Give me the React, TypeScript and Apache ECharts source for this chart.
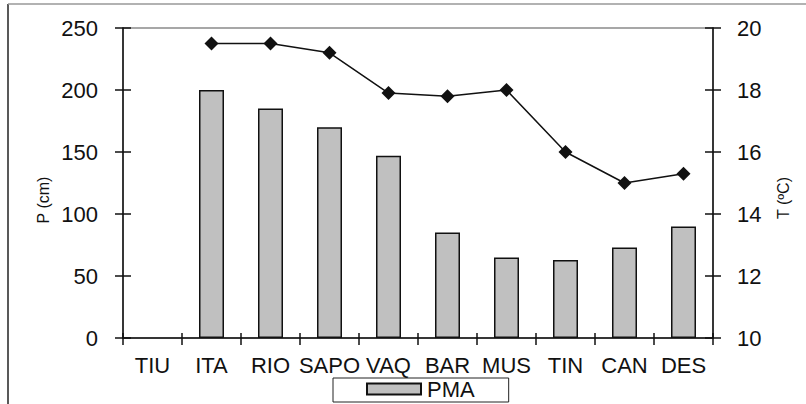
import React, { useEffect, useRef } from "react";
import * as echarts from "echarts";

const categories = ["TIU", "ITA", "RIO", "SAPO", "VAQ", "BAR", "MUS", "TIN", "CAN", "DES"];
const pmaValues = [null, 200, 185, 170, 147, 85, 65, 63, 73, 90];
const tempValues = [null, 19.5, 19.5, 19.2, 17.9, 17.8, 18.0, 16.0, 15.0, 15.3];

const FONT = "Liberation Sans, Arial, sans-serif";
const INK = "#111";

export default function App() {
  const ref = useRef<HTMLDivElement>(null);
  useEffect(() => {
    if (!ref.current) return;
    const chart = echarts.init(ref.current, undefined, { renderer: "svg" });
    const tickInside = (len: number) => ({
      show: true,
      inside: true,
      length: len,
      lineStyle: { color: INK, width: 1.5 },
    });
    chart.setOption({
      animation: false,
      backgroundColor: "#ffffff",
      textStyle: { fontFamily: FONT },
      grid: {
        left: 123,
        right: 93,
        top: 28,
        bottom: 66,
        show: true,
        borderColor: "#8a8a8a",
        borderWidth: 1.5,
        backgroundColor: "transparent",
      },
      graphic: [
        { type: "line", shape: { x1: 8, y1: 4, x2: 8, y2: 410 }, style: { stroke: "#222", lineWidth: 1.5 } },
        { type: "line", shape: { x1: 8, y1: 4, x2: 810, y2: 4 }, style: { stroke: "#999", lineWidth: 1.5 } },
        {
          type: "text",
          x: 43,
          y: 200,
          rotation: Math.PI / 2,
          style: { text: "P (cm)", fontFamily: FONT, fontSize: 16, fill: INK, align: "center", verticalAlign: "middle" },
        },
        {
          type: "text",
          x: 783,
          y: 198,
          rotation: Math.PI / 2,
          style: { text: "T (ºC)", fontFamily: FONT, fontSize: 16, fill: INK, align: "center", verticalAlign: "middle" },
        },
      ],
      legend: {
        data: [{ name: "PMA", icon: "rect" }],
        left: 333,
        top: 378,
        orient: "horizontal",
        padding: [0, 34, 2, 33],
        borderColor: "#222",
        borderWidth: 1,
        itemWidth: 54,
        itemHeight: 11,
        itemGap: 6,
        textStyle: { fontFamily: FONT, fontSize: 22, color: INK, lineHeight: 22, padding: [0, 0, 0, 1] },
      },
      xAxis: [
        {
          type: "category",
          data: categories,
          position: "bottom",
          boundaryGap: true,
          axisLine: { show: true, lineStyle: { color: INK, width: 1.5 } },
          axisTick: { show: true, alignWithLabel: false, length: 7, lineStyle: { color: INK, width: 1.5 } },
          axisLabel: { fontFamily: FONT, fontSize: 22, color: INK, margin: 16, interval: 0 },
          splitLine: { show: false },
        },
        {
          type: "category",
          data: categories,
          position: "bottom",
          offset: 0,
          boundaryGap: true,
          axisLine: { show: false },
          axisTick: { ...tickInside(5), alignWithLabel: false },
          axisLabel: { show: false },
          splitLine: { show: false },
        },
      ],
      yAxis: [
        {
          type: "value",
          min: 0,
          max: 250,
          interval: 50,
          position: "left",
          axisLine: { show: true, lineStyle: { color: INK, width: 1.5 } },
          axisTick: { show: true, length: 8, lineStyle: { color: INK, width: 1.5 } },
          axisLabel: { fontFamily: FONT, fontSize: 22, color: INK, margin: 25 },
          splitLine: { show: false },
        },
        {
          type: "value",
          min: 10,
          max: 20,
          interval: 2,
          position: "right",
          axisLine: { show: true, lineStyle: { color: INK, width: 1.5 } },
          axisTick: { show: true, length: 8, lineStyle: { color: INK, width: 1.5 } },
          axisLabel: { fontFamily: FONT, fontSize: 22, color: INK, margin: 24 },
          splitLine: { show: false },
        },
        {
          type: "value",
          min: 0,
          max: 250,
          interval: 50,
          position: "left",
          offset: 0,
          axisLine: { show: false },
          axisTick: tickInside(8),
          axisLabel: { show: false },
          splitLine: { show: false },
        },
        {
          type: "value",
          min: 10,
          max: 20,
          interval: 2,
          position: "right",
          offset: 0,
          axisLine: { show: false },
          axisTick: tickInside(8),
          axisLabel: { show: false },
          splitLine: { show: false },
        },
      ],
      series: [
        {
          name: "PMA",
          type: "bar",
          xAxisIndex: 0,
          yAxisIndex: 0,
          data: pmaValues,
          barWidth: 25,
          itemStyle: { color: "#c0c0c0", borderColor: INK, borderWidth: 1.5 },
        },
        {
          name: "T",
          type: "line",
          xAxisIndex: 0,
          yAxisIndex: 1,
          data: tempValues,
          symbol: "diamond",
          symbolSize: 14,
          lineStyle: { color: INK, width: 1.5 },
          itemStyle: { color: INK },
        },
      ],
    });
    return () => chart.dispose();
  }, []);
  return (
    <div
      ref={ref}
      style={{ position: "fixed", left: 0, top: 0, width: 806, height: 404 }}
    />
  );
}
